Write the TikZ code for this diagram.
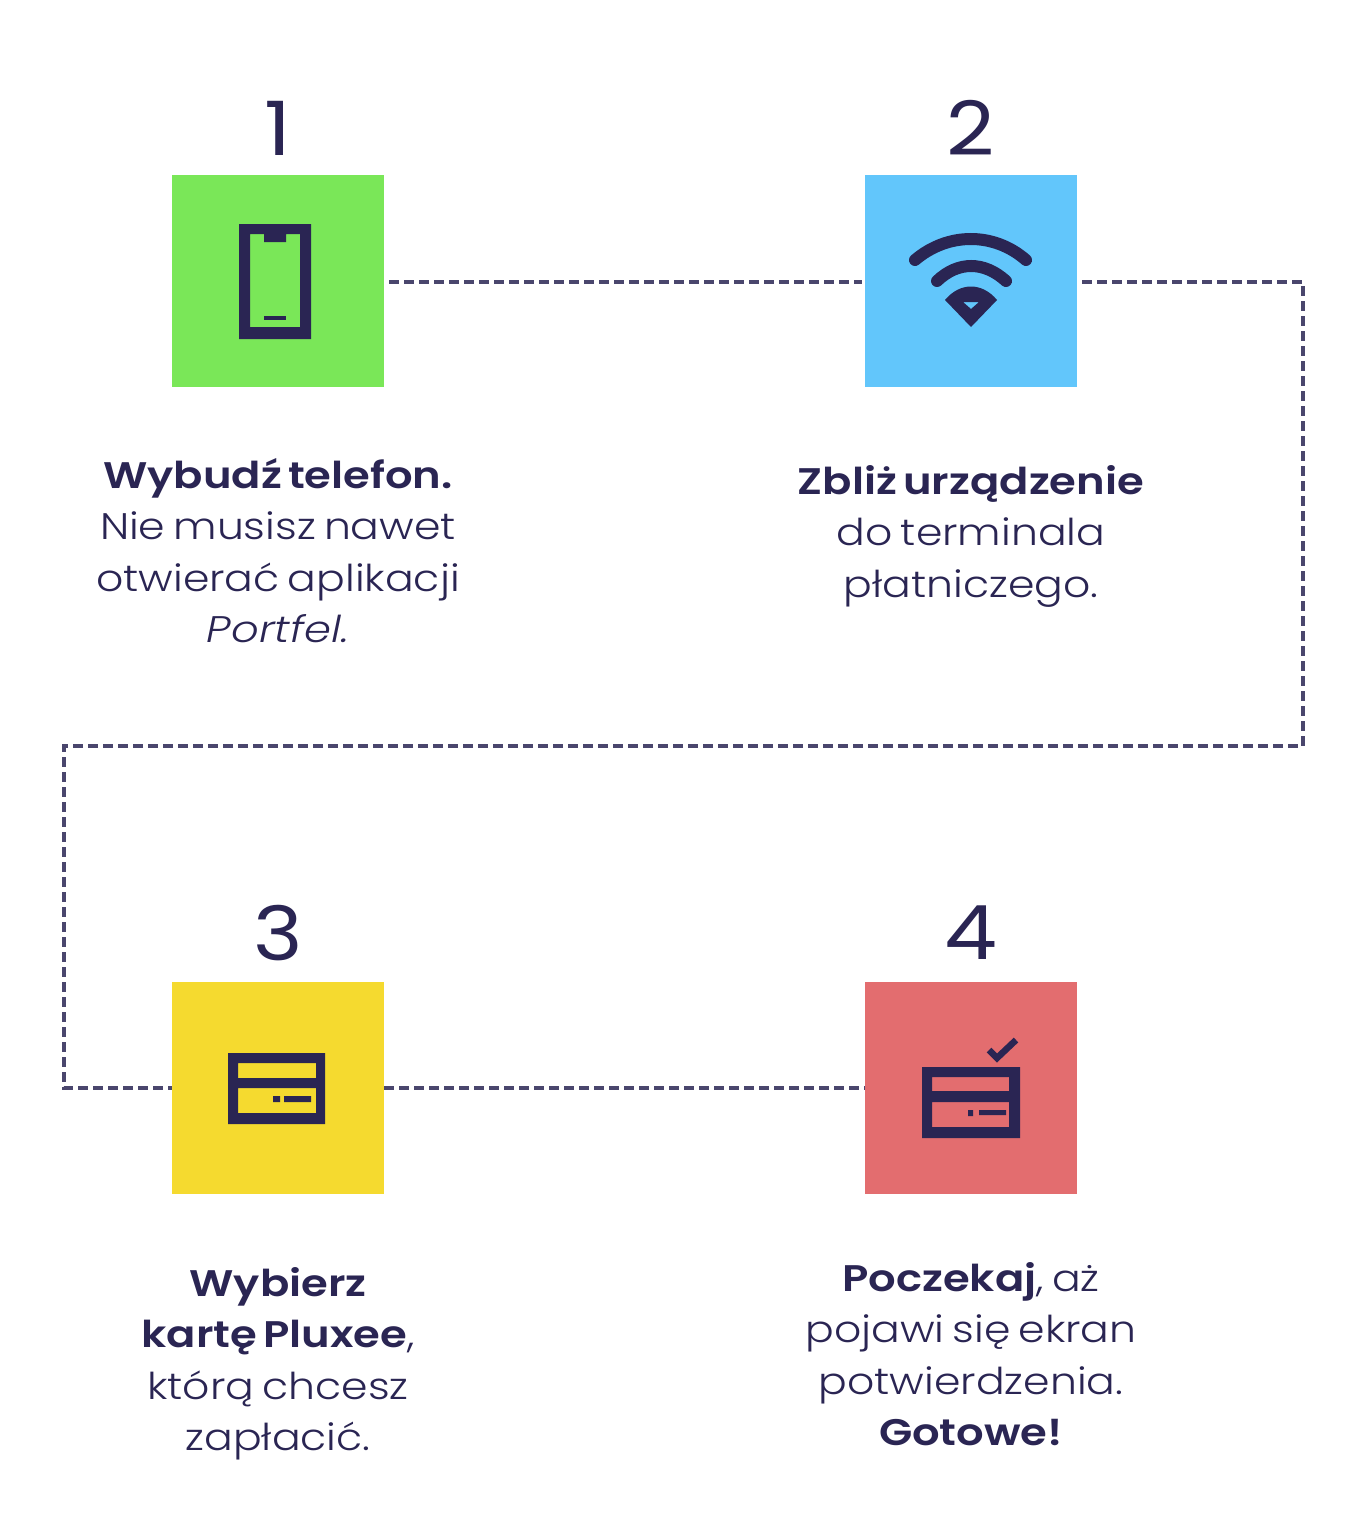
\documentclass[tikz,border=0pt]{standalone}
\usepackage{fontspec}
\setmainfont{Poppins}
\newfontfamily\lightfont{Poppins Light}[FakeStretch=1.15,WordSpace=0.7]
\newfontfamily\lightitfont{Poppins Light Italic}[FakeStretch=1.17,WordSpace=0.7]
\newfontfamily\boldfont{Poppins SemiBold}[FakeStretch=1.17,WordSpace=0.6]
\newfontfamily\numfont{Poppins}[FakeStretch=1.12]
\definecolor{ink}{HTML}{2A2553}
\definecolor{cgreen}{HTML}{7AE758}
\definecolor{cblue}{HTML}{62C6FB}
\definecolor{cyellow}{HTML}{F5DA2F}
\definecolor{cred}{HTML}{E36D6F}
\tikzset{
  x=1pt,y=-1pt,
  tile/.style={minimum size=212pt,inner sep=0pt,outer sep=0pt,anchor=center},
  num/.style={text=ink,font=\numfont\fontsize{75}{75}\selectfont,anchor=center,inner sep=0pt},
  caption/.style={text=ink,align=center,anchor=north,inner sep=0pt,font=\lightfont\fontsize{37}{51.5}\selectfont},
  link/.style={draw=ink!85!white,line width=3.3pt,dash pattern=on 10pt off 5pt},
  icon/.style={fill=ink,draw=none,even odd rule},
  iconline/.style={draw=ink,line cap=round,fill=none}
}
\newcommand{\hv}[1]{{\boldfont #1}}
\begin{document}
\begin{tikzpicture}
\useasboundingbox[fill=white] (0,0) rectangle (1360,1525);
\node[tile,fill=cgreen] (s1) at (278,281) {};
\node[tile,fill=cblue] (s2) at (971,281) {};
\node[tile,fill=cyellow] (s3) at (278,1088) {};
\node[tile,fill=cred] (s4) at (971,1088) {};
\node[num] (n1) at (278,128) {1};
\node[num] (n2) at (971,128) {2};
\node[num] (n3) at (278,933) {3};
\node[num] (n4) at (971,933) {4};
\coordinate (r1) at (1303,282);
\coordinate (r2) at (1303,746);
\coordinate (l1) at (64,746);
\coordinate (l2) at (64,1088);
\draw[link,shorten <=5pt,shorten >=3pt] (s1.east |- r1) -- (s2.west |- r1);
\draw[link,shorten <=5pt] (s2.east |- r1) -- (r1) -- (r2) -- (l1) -- (l2) -- (s3.west);
\draw[link] (s3.east) -- (s4.west);
% phone
\path[icon] (239,224) rectangle (311,339)
  (250,234) -- (264,234) -- (264,242) -- (286,242) -- (286,234) -- (300,234) -- (300,327) -- (250,327) -- cycle;
\fill[ink] (264,316) rectangle (286,320);
% wifi
\draw[iconline,line width=12pt] (915,260) .. controls (948,232) and (994,232) .. (1026,260);
\draw[iconline,line width=12pt] (937,281) .. controls (958,261) and (984,261) .. (1006,281);
\path[icon] (945,300) .. controls (960,282) and (982,282) .. (997,300) -- (971,327) -- cycle
  (963,302) -- (979,302) -- (971,309) -- cycle;
% card 3
\path[icon] (228,1053) rectangle (325,1124)
  (238,1063) rectangle (316,1078)
  (238,1088) rectangle (316,1113);
\fill[ink] (273,1096) rectangle (280,1102) (284,1096) rectangle (311,1102);
% card 4
\path[icon] (922,1067) rectangle (1020,1138)
  (932,1077) rectangle (1009,1091)
  (932,1102) rectangle (1009,1127);
\fill[ink] (968,1110) rectangle (973,1116) (979,1110) rectangle (1006,1115);
\draw[draw=ink,line width=6.5pt] (989,1050) -- (997,1058) -- (1016,1040);
% captions
\node[caption] (t1) at (278,458) {\hv{Wybudź telefon.}\\Nie musisz nawet\\otwierać aplikacji\\{\lightitfont Portfel.}};
\node[caption] (t2) at (971,465) {\hv{Zbliż urządzenie}\\do terminala\\płatniczego.};
\node[caption] (t3) at (278,1267) {\hv{Wybierz}\\\hv{kartę Pluxee},\\którą chcesz\\zapłacić.};
\node[caption] (t4) at (971,1262) {\hv{Poczekaj}, aż\\pojawi się ekran\\potwierdzenia.\\\hv{Gotowe!}};
\end{tikzpicture}
\end{document}
